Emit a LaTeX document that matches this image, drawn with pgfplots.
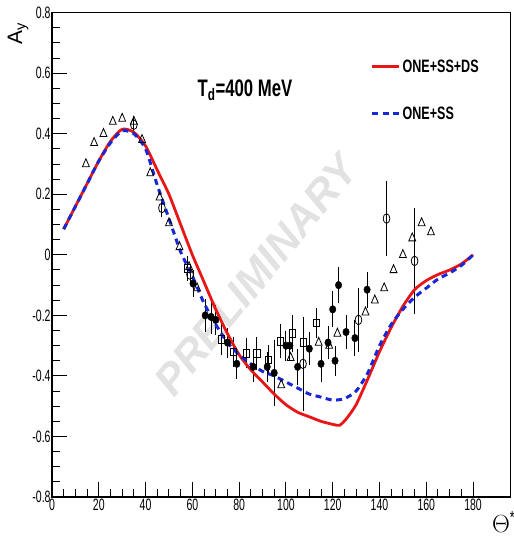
\documentclass[border=0pt]{standalone}
\usepackage{pgfplots}
\pgfplotsset{compat=1.18}
\usepackage{fontspec}
\setmainfont{Liberation Sans}[FakeStretch=0.64]
\newfontfamily\lbl{Liberation Sans}[FakeStretch=0.70]
\newfontfamily\wmfont{Liberation Sans}
\definecolor{rootred}{RGB}{232,22,22}
\definecolor{rootblue}{RGB}{25,40,215}
\definecolor{wm}{RGB}{226,226,226}
\begin{document}
\begin{tikzpicture}
\useasboundingbox (-52bp,-42bp) rectangle (462bp,497bp);
\begin{axis}[
  scale only axis, width=458.5bp, height=484.3bp,
  xmin=0, xmax=196, ymin=-0.8, ymax=0.8,
  axis line style={line width=1.5bp},
  xtick={0,20,40,60,80,100,120,140,160,180},
  ytick={-0.8,-0.6,-0.4,-0.2,0,0.2,0.4,0.6,0.8},
  yticklabels={-0.8,-0.6,-0.4,-0.2,0,0.2,0.4,0.6,0.8},
  minor x tick num=3, minor y tick num=3,
  tick align=inside, xtick pos=lower, ytick pos=left,
  major tick length=15bp, minor tick length=8bp,
  tick style={black, line width=1bp},
  /pgf/number format/assume math mode=true,
  ticklabel style={font=\fontsize{16.5}{16.5}\selectfont},
  yticklabel style={inner sep=1.2bp},
  xticklabel style={inner sep=2bp},
  xlabel={$\Theta$\textsuperscript{*}},
  xlabel style={at={(rel axis cs:0.985,-0.052)}, anchor=center, font=\lbl\fontsize{25}{25}\selectfont},
  legend style={draw=none, fill=none, at={(rel axis cs:0.688,0.912)}, anchor=north west,
    font=\lbl\bfseries\fontsize{18}{18}\selectfont, row sep=29bp,
    /tikz/every even column/.append style={column sep=3bp}},
  legend cell align=left,
  legend image code/.code={\draw[#1] (0bp,0bp) -- (27bp,0bp);},
  error bars/error bar style={line width=0.9bp, black},
  error bars/error mark options={black, mark size=3bp, line width=0.9bp},
  clip=false,
]
% watermark
\node[rotate=50.7, text=wm, font=\wmfont\bfseries\itshape\fontsize{43}{43}\selectfont, inner sep=0pt] at (axis cs:87.2,-0.066) {PRELIMINARY};

% open triangles
\addplot[only marks, mark=triangle, mark size=5.3bp, mark options={black, line width=0.8bp, xscale=0.75}, forget plot] coordinates {
(14.5,0.30) (18,0.37) (22,0.40) (26,0.44) (30,0.45) (35,0.44) (38.5,0.38)
(42,0.27) (46,0.19) (50,0.105) (54.5,0.026) (58.6,-0.04) (62,-0.11)
(98,-0.43) (102,-0.34) (114,-0.29) (118.5,-0.30) (122,-0.26)
(134,-0.19) (138,-0.15) (142,-0.11) (146,-0.05) (150,0.0) (154,0.055) (158,0.105) (162,0.075)
};

% filled circles
\addplot[only marks, mark=*, mark size=3.8bp, mark options={black, xscale=0.85}, forget plot,
  error bars/.cd, y dir=both, y explicit] table[x=x, y=y, y error=e] {
x y e
60.3 -0.095 0.035
65.5 -0.20 0.045
68 -0.205 0.045
70 -0.215 0.04
75 -0.29 0.04
79 -0.36 0.04
86 -0.37 0.04
92 -0.37 0.04
95 -0.39 0.10
100 -0.30 0.04
101.7 -0.30 0.04
105 -0.37 0.05
110 -0.31 0.045
115 -0.36 0.05
118 -0.29 0.045
120 -0.18 0.05
121 -0.35 0.04
122.5 -0.10 0.05
125.7 -0.255 0.045
129.5 -0.275 0.05
134.7 -0.115 0.05
};

% open squares
\addplot[only marks, mark=square, mark size=3.8bp, mark options={black, line width=0.8bp, xscale=0.8}, forget plot,
  error bars/.cd, y dir=both, y explicit] table[x=x, y=y, y error=e] {
x y e
58 -0.045 0.03
72.6 -0.28 0.04
77.4 -0.32 0.04
83 -0.325 0.04
87.6 -0.325 0.045
92.4 -0.347 0.04
97.5 -0.285 0.045
102.6 -0.26 0.05
107.3 -0.29 0.045
112.9 -0.225 0.04
};

% open circles
\addplot[only marks, mark=o, mark size=4.8bp, mark options={black, line width=0.8bp, xscale=0.7}, forget plot,
  error bars/.cd, y dir=both, y explicit] table[x=x, y=y, y error=e] {
x y e
35 0.43 0.02
47 0.155 0.02
59 -0.065 0.02
107.3 -0.36 0.145
131 -0.215 0.095
143 0.12 0.113
155 -0.02 0.165
};

% ONE+SS+DS
\addplot[rootred, line width=2.8bp, smooth, tension=0.4] coordinates {
(5,0.085) (10,0.16) (15,0.235) (20,0.31) (25,0.375) (30,0.415) (35,0.405) (40,0.36)
(45,0.28) (50,0.20) (55,0.10) (60,0.0) (65,-0.09) (70,-0.18) (75,-0.26) (80,-0.33)
(85,-0.38) (90,-0.42) (95,-0.46) (100,-0.495) (105,-0.52) (110,-0.535) (115,-0.55)
(120,-0.56) (123,-0.563) (126,-0.54) (130,-0.495) (135,-0.41) (140,-0.32) (145,-0.24)
(150,-0.17) (155,-0.115) (160,-0.085) (165,-0.065) (170,-0.05) (175,-0.03) (180,0.0)
};
\addlegendentry{ONE+SS+DS}

% ONE+SS
\addplot[rootblue, line width=3bp, smooth, tension=0.4, dash pattern=on 6bp off 4.5bp] coordinates {
(5,0.085) (10,0.16) (15,0.235) (20,0.31) (25,0.37) (30,0.41) (35,0.40) (40,0.35)
(45,0.23) (50,0.12) (55,0.01) (60,-0.07) (65,-0.16) (70,-0.23) (75,-0.29) (80,-0.33)
(85,-0.36) (90,-0.385) (95,-0.40) (100,-0.42) (105,-0.44) (110,-0.46) (115,-0.47)
(120,-0.48) (125,-0.475) (130,-0.45) (135,-0.39) (140,-0.30) (145,-0.23) (150,-0.18)
(155,-0.14) (160,-0.11) (165,-0.08) (170,-0.06) (175,-0.035) (180,0.0)
};
\addlegendentry{ONE+SS}

% title
\node[font=\lbl\bfseries\fontsize{24}{24}\selectfont] at (axis cs:82.5,0.545) {T\textsubscript{d}=400 MeV};
% y label
\node[font=\wmfont\fontsize{21}{21}\selectfont, inner sep=0pt] at (rel axis cs:-0.074,0.956) {\rotatebox{90}{A\textsubscript{y}}};
\end{axis}
\end{tikzpicture}
\end{document}
